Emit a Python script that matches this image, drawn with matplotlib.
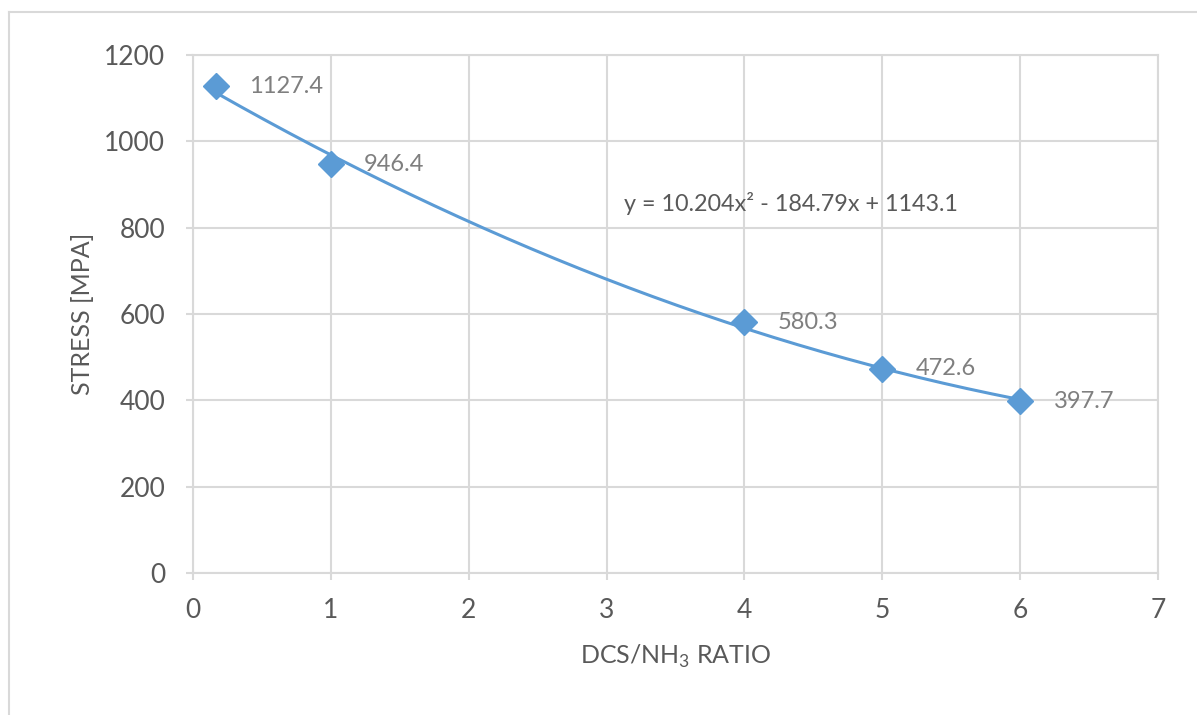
import numpy as np
import matplotlib
matplotlib.use("Agg")
import matplotlib.pyplot as plt
from matplotlib.lines import Line2D

# data
ratio = [1 / 6, 1, 4, 5, 6]
stress = [1127.4, 946.4, 580.3, 472.6, 397.7]
point_labels = ["1127.4", "946.4", "580.3", "472.6", "397.7"]
equation = "y = 10.204x\u00b2 - 184.79x + 1143.1"

blue = "#5b9bd5"
grid_gray = "#d9d9d9"
text_gray = "#595959"
label_gray = "#7f7f7f"

plt.rcParams["font.family"] = ["Lato", "DejaVu Sans"]
plt.rcParams["mathtext.fontset"] = "custom"
plt.rcParams["mathtext.rm"] = "Lato"

fig = plt.figure(figsize=(11.97, 7.15), dpi=100)
ax = fig.add_axes([0.1612, 0.1986, 0.8062, 0.7245])

# 2nd order polynomial trendline through the points
coef = np.polyfit(ratio, stress, 2)
xs = np.linspace(min(ratio), max(ratio), 200)
ax.plot(xs, np.polyval(coef, xs), color=blue, lw=2.2, zorder=3)

ax.plot(ratio, stress, linestyle="none", marker="D", markersize=13,
        color=blue, zorder=4)

for x, y, lab in zip(ratio, stress, point_labels):
    ax.annotate(lab, (x, y), xytext=(24, 0), textcoords="offset points",
                ha="left", va="center", fontsize=17, color=label_gray, zorder=5)

ax.text(3.13, 857, equation, fontsize=16.8, color=text_gray,
        ha="left", va="center")

ax.set_xlim(0, 7)
ax.set_ylim(0, 1200)
ax.set_xticks(range(0, 8))
ax.set_yticks(range(0, 1201, 200))
ax.grid(True, color=grid_gray, lw=1.5)
ax.set_axisbelow(True)
for sp in ax.spines.values():
    sp.set_color(grid_gray)
    sp.set_linewidth(1.5)
ax.tick_params(colors=grid_gray, labelcolor=text_gray, labelsize=19,
               length=5, width=1.5)
ax.tick_params(axis="x", pad=13)
ax.tick_params(axis="y", pad=15)

ax.set_xlabel("DCS/NH$_3$ RATIO", fontsize=18, color=text_gray, labelpad=14)
ax.set_ylabel("STRESS [MPA]", fontsize=18, color=text_gray, labelpad=7)

# outer chart border (top and left edges visible)
fig.add_artist(Line2D([9 / 1197, 1], [1 - 12 / 715, 1 - 12 / 715],
                      transform=fig.transFigure, color=grid_gray, lw=1.5))
fig.add_artist(Line2D([9 / 1197, 9 / 1197], [0, 1 - 12 / 715],
                      transform=fig.transFigure, color=grid_gray, lw=1.5))

fig.savefig("out.png", dpi=100)
